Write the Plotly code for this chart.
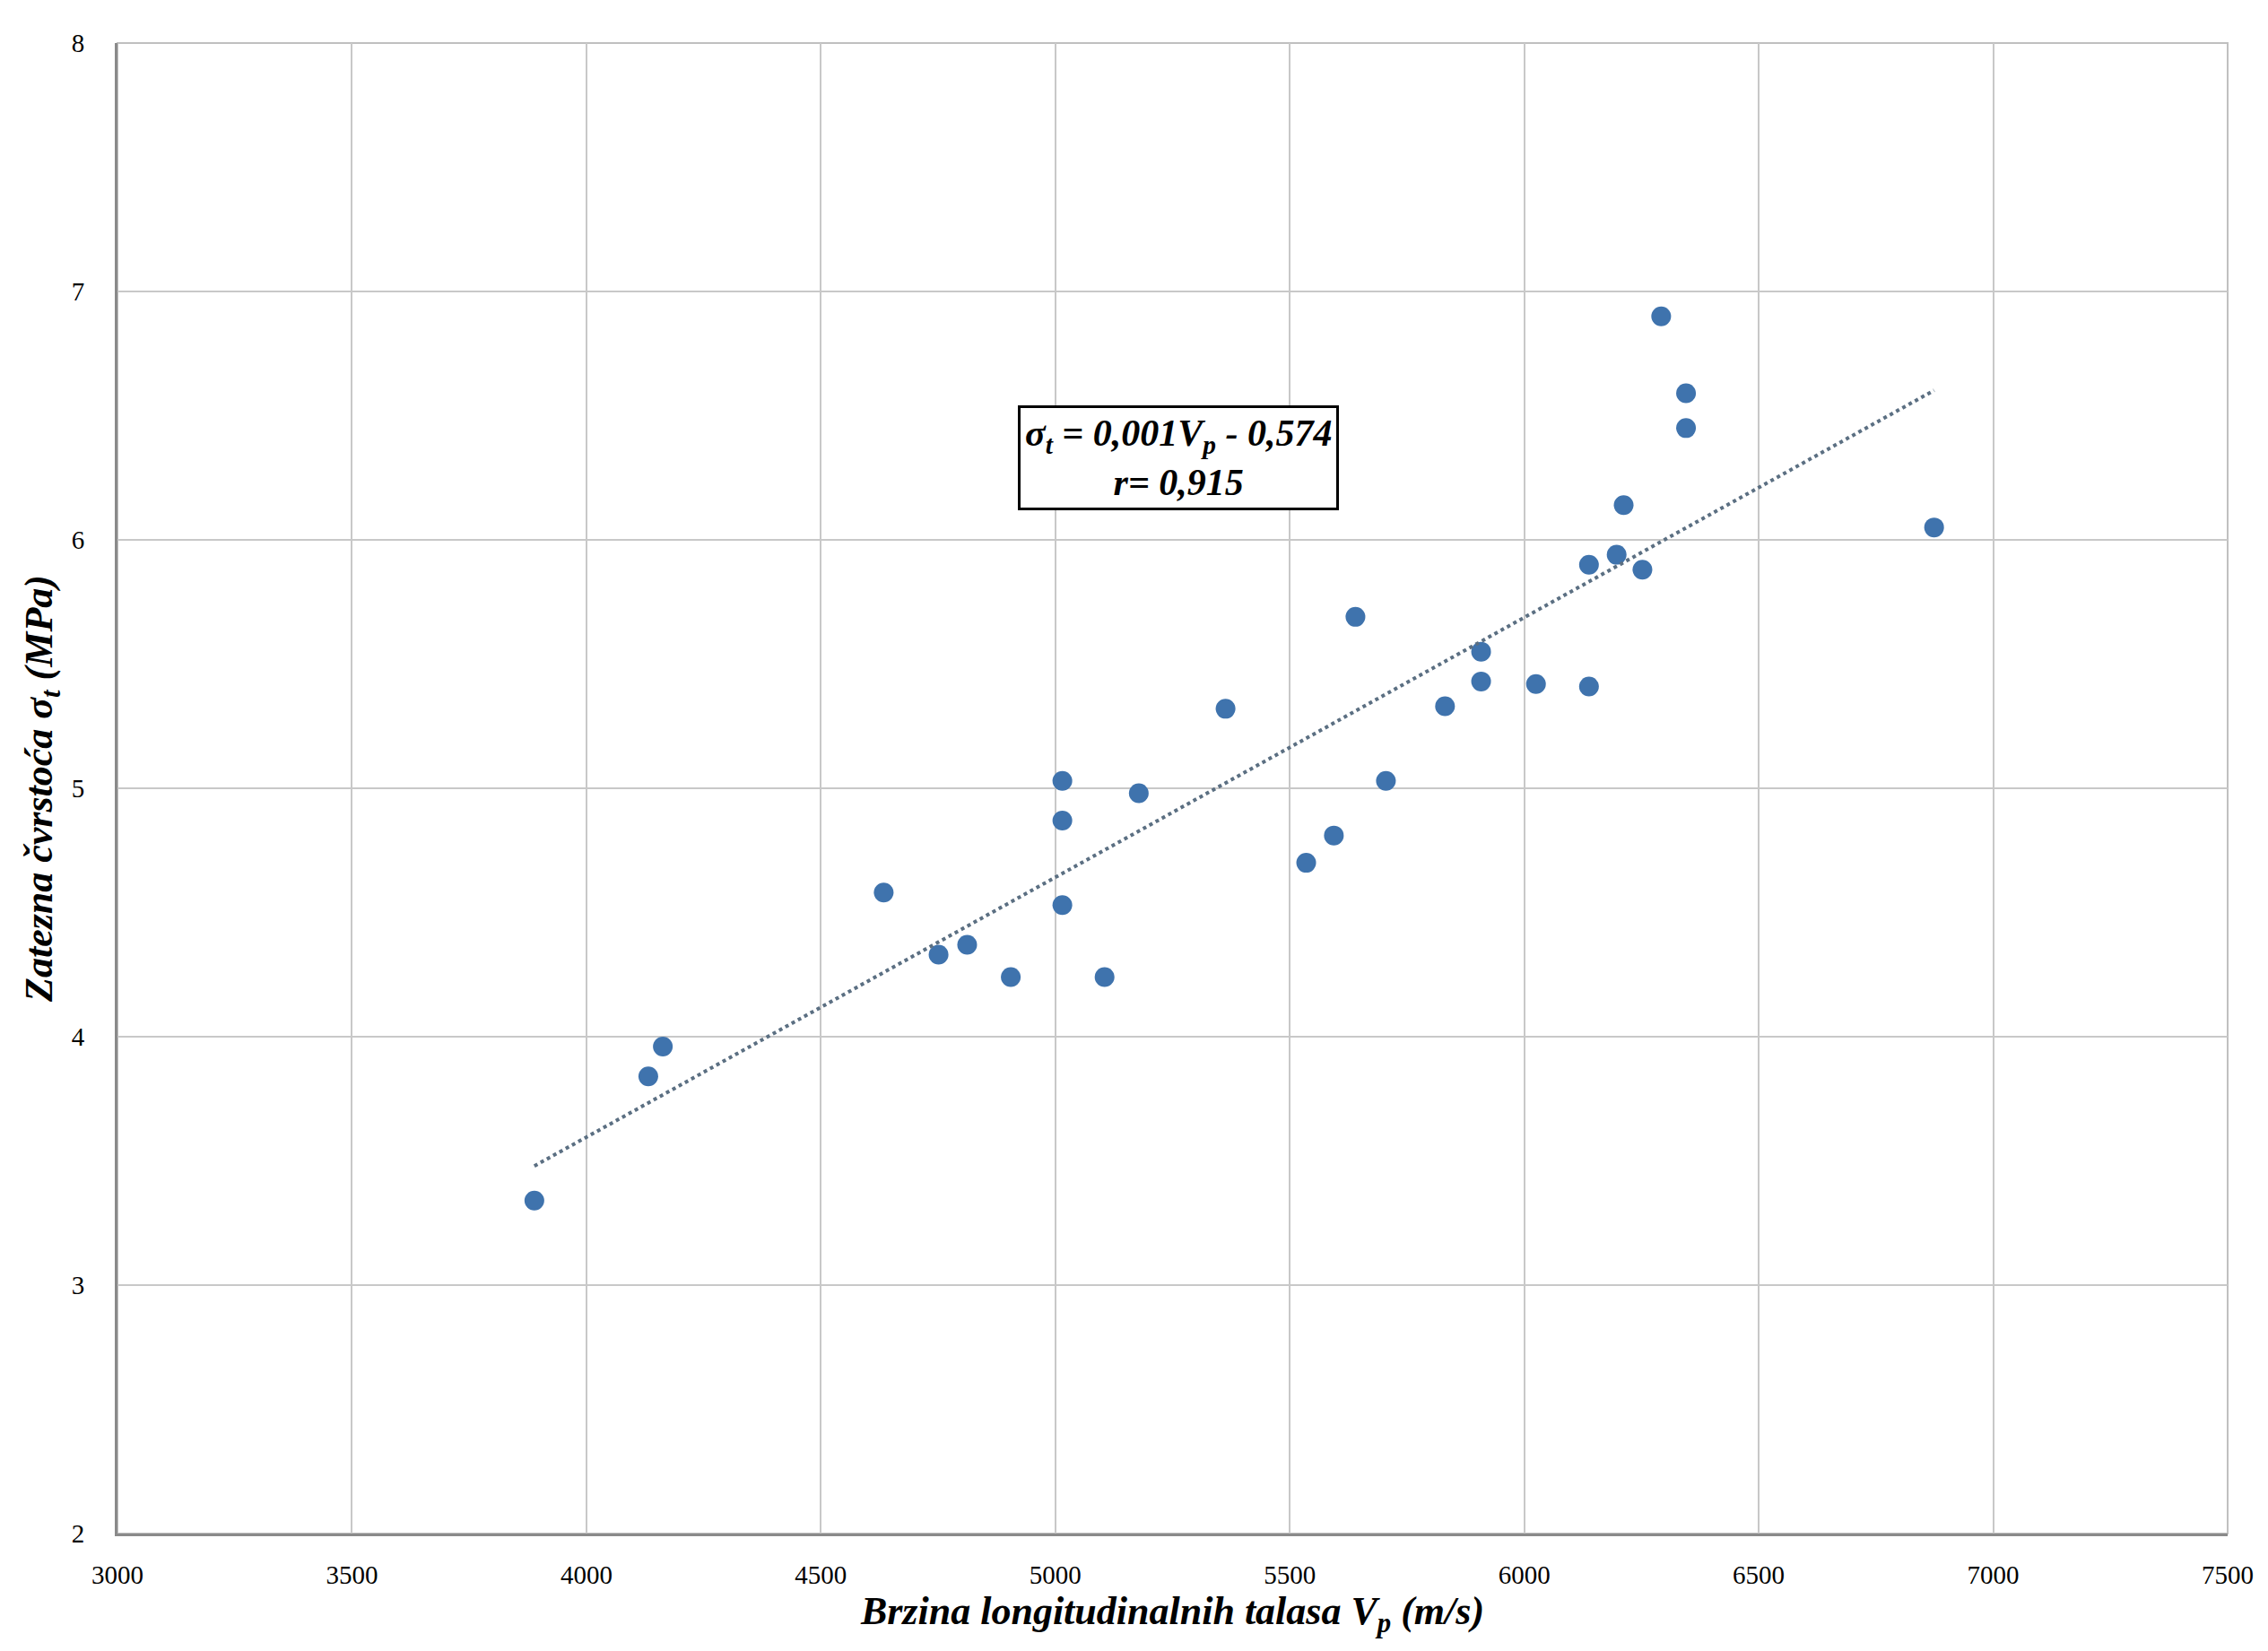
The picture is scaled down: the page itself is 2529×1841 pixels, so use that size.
import numpy as np
import plotly.graph_objects as go

# Data
vp = [3889, 4132, 4163, 4634, 4751, 4812, 4905, 5015, 5015, 5015, 5105, 5178, 5363,
      5535, 5594, 5640, 5705, 5831, 5908, 5908, 6025, 6138, 6138, 6197, 6212, 6252,
      6292, 6345, 6345, 6874]
sigma = [3.34, 3.84, 3.96, 4.58, 4.33, 4.37, 4.24, 5.03, 4.87, 4.53, 4.24, 4.98, 5.32,
         4.70, 4.81, 5.69, 5.03, 5.33, 5.55, 5.43, 5.42, 5.90, 5.41, 5.94, 6.14, 5.88,
         6.90, 6.59, 6.45, 6.05]
x_ticks = [3000, 3500, 4000, 4500, 5000, 5500, 6000, 6500, 7000, 7500]
y_ticks = [2, 3, 4, 5, 6, 7, 8]

# Linear trend computed from the data
coef = np.polyfit(vp, sigma, 1)
tx = np.array([min(vp), max(vp)])
ty = np.polyval(coef, tx)

font_family = "Liberation Serif"

fig = go.Figure()
fig.add_trace(go.Scatter(
    x=vp, y=sigma, mode="markers",
    marker=dict(size=22, color="#3f73ad", line=dict(width=0)),
    showlegend=False,
))
fig.add_trace(go.Scatter(
    x=tx, y=ty, mode="lines",
    line=dict(color="#5b6f82", width=4, dash="dot"),
    showlegend=False,
))

fig.add_annotation(
    x=5262, y=6.33, xref="x", yref="y",
    text="<b><i>σ<sub>t</sub> = 0,001V<sub>p</sub> - 0,574</i></b><br><b><i>r= 0,915</i></b>",
    showarrow=False,
    font=dict(family=font_family, size=42, color="black"),
    bordercolor="black", borderwidth=3, bgcolor="white",
    borderpad=5, align="center",
)

fig.update_layout(
    width=2529, height=1841,
    margin=dict(l=123, r=53, t=40, b=139),
    plot_bgcolor="white", paper_bgcolor="white",
    font=dict(family=font_family, size=28, color="black"),
    xaxis=dict(
        range=[3000, 7500], tickvals=x_ticks, ticktext=[str(v) for v in x_ticks],
        showgrid=True, gridcolor="#c8c8c8", gridwidth=2,
        showline=True, linecolor="#8a8a8a", linewidth=3, mirror=False,
        zeroline=False, ticks="", ticklabelstandoff=18,
        tickfont=dict(family=font_family, size=29),
        title=dict(text="<b><i>Brzina longitudinalnih talasa V<sub>p</sub> (m/s)</i></b>",
                   font=dict(family=font_family, size=44), standoff=10),
    ),
    yaxis=dict(
        range=[2, 8], tickvals=y_ticks, ticktext=[str(v) for v in y_ticks],
        showgrid=True, gridcolor="#c8c8c8", gridwidth=2,
        showline=True, linecolor="#8a8a8a", linewidth=3,
        zeroline=False, ticks="", ticklabelstandoff=28,
        tickfont=dict(family=font_family, size=29),
        title=dict(text="<b><i>Zatezna čvrstoća σ<sub>t</sub> (MPa)</i></b>",
                   font=dict(family=font_family, size=44), standoff=8),
    ),
)
fig.add_shape(type="rect", xref="paper", yref="paper", x0=0, y0=0, x1=1, y1=1,
              line=dict(color="#c0c0c0", width=2), layer="below")

fig.write_html("out.html")
